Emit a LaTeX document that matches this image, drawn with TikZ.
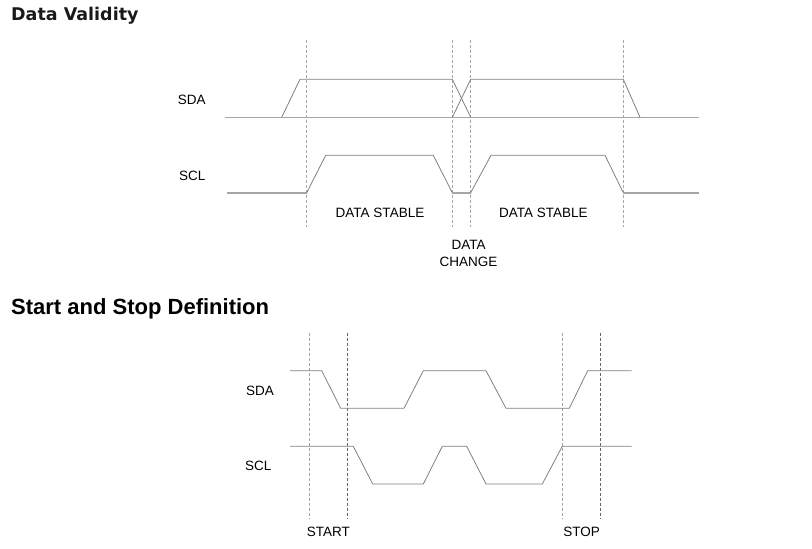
\documentclass[tikz,border=0pt]{standalone}
\usepackage{fontspec}
\setmainfont{Liberation Sans}
\newfontfamily\headfont{DejaVu Sans}
\begin{document}
\begin{tikzpicture}[x=1pt,y=-1pt,
  sig/.style={draw=black!50,line width=0.8pt},
  sigthick/.style={draw=black!35,line width=1.6pt},
  guide/.style={draw=black!35,line width=0.7pt,dash pattern=on 3pt off 2pt},
  guidedark/.style={draw=black!60,line width=0.7pt,dash pattern=on 3pt off 2pt},
  lbl/.style={font=\fontsize{13.5}{15}\selectfont,text=black,inner sep=0pt},
  headA/.style={font=\headfont\fontsize{17.5}{20}\selectfont\bfseries,text=black!90,inner sep=0pt,anchor=base west},
  headB/.style={font=\fontsize{22}{24}\selectfont\bfseries,text=black,inner sep=0pt,anchor=base west}]
\useasboundingbox (0,0) rectangle (812,549);
% headings
\node[headA] (h1) at (11,20.5) {Data Validity};
\node[headB] (h2) at (11,314.5) {Start and Stop Definition};
% ---------- Data validity ----------
\draw[guide] (306.7,40) -- (306.7,227);
\draw[guide] (452.3,40) -- (452.3,227);
\draw[guide] (470.7,40) -- (470.7,227);
\draw[guide] (623.3,40) -- (623.3,227);
% SDA
\draw[sigthick] (225,117.3) -- (699,117.3);
\draw[sig] (281.7,117.3) -- (300,79.3) -- (452.3,79.3) -- (470.7,117.3);
\draw[sig] (452.3,117.3) -- (470.7,79.3) -- (623.3,79.3) -- (640,117.3);
% SCL
\draw[sigthick] (226.7,192.7) -- (306.7,192.7);
\draw[sig] (306.7,192.7) -- (325.7,155.3) -- (433.3,155.3) -- (452.3,192.7);
\draw[sigthick] (452.3,192.7) -- (470.7,192.7);
\draw[sig] (470.7,192.7) -- (491,155.3) -- (605,155.3) -- (623.3,192.7);
\draw[sigthick] (623.3,192.7) -- (699,192.7);
\node[lbl] (sda1) at (191.7,100) {SDA};
\node[lbl] (scl1) at (192.3,175.7) {SCL};
\node[lbl] (ds1) at (380,212.7) {DATA STABLE};
\node[lbl] (ds2) at (543.3,212.7) {DATA STABLE};
\node[lbl,align=center,font=\fontsize{13.5}{17}\selectfont] (dc) at (468.5,253) {DATA\\CHANGE};
% ---------- Start / Stop ----------
\draw[guide] (309,332.7) -- (309,519.3);
\draw[guidedark] (347,332.7) -- (347,519.3);
\draw[guide] (562.3,332.7) -- (562.3,519.3);
\draw[guidedark] (600.3,332.7) -- (600.3,519.3);
% SDA
\draw[sig] (290,370.7) -- (321.7,370.7) -- (340.7,408.3) -- (404,408.3) -- (423.3,370.7)
  -- (486,370.7) -- (506,408.3) -- (569.3,408.3) -- (587.7,370.7) -- (631.7,370.7);
% SCL
\draw[sig] (290,446.3) -- (353.3,446.3) -- (372.7,484) -- (423.3,484) -- (442.3,446.3)
  -- (466.7,446.3) -- (486,484) -- (542.3,484) -- (562.3,446.3) -- (631.7,446.3);
\node[lbl] (sda2) at (260,390.7) {SDA};
\node[lbl] (scl2) at (258.3,465.7) {SCL};
\node[lbl] (start) at (328.3,532.3) {START};
\node[lbl] (stop) at (581.7,532.3) {STOP};
\end{tikzpicture}
\end{document}
